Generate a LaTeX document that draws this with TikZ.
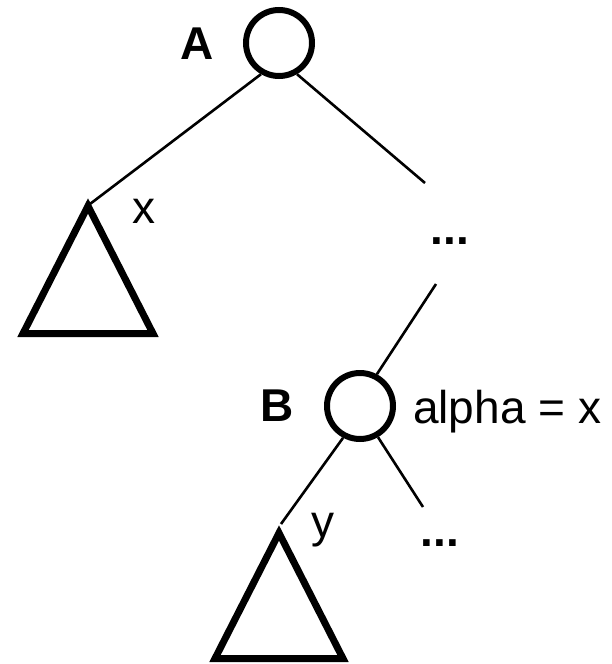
\documentclass[tikz,border=0pt]{standalone}
\usepackage{fontspec}
\setmainfont{Liberation Sans}
\usepackage{tikz}

\begin{document}
\begin{tikzpicture}[x=1pt, y=-1pt,
    vertex/.style={circle, draw, line width=6pt, minimum size=66pt, inner sep=0pt},
    tri/.style={line width=7pt},
    edge/.style={line width=2.6pt},
    lbl/.style={inner sep=0pt, font=\fontsize{46}{50}\selectfont}]
    \useasboundingbox (0,0) rectangle (612,664);

    \node[vertex] (A) at (279,43) {};
    \node[vertex] (B) at (360,406) {};
    \node[lbl, font=\fontsize{46}{50}\selectfont\bfseries] (la) at (197,44) {A};
    \node[lbl, font=\fontsize{46}{50}\selectfont\bfseries] (lb) at (277,406) {B};

    % subtrees
    \coordinate (tx) at (90,204);
    \coordinate (ty) at (281,524);
    \draw[tri] (88,206) -- (23,333.5) -- (153,333.5) -- cycle;
    \draw[tri] (279,533) -- (215,658.5) -- (343,658.5) -- cycle;

    % elided parts
    \node[lbl, font=\fontsize{46}{50}\selectfont\bfseries, anchor=base] (dots1) at (450,244) {...};
    \node[lbl, font=\fontsize{46}{50}\selectfont\bfseries, anchor=base] (dots2) at (440,546) {...};
    \coordinate (d1top) at (425,183);
    \coordinate (d1bot) at (436,284);
    \coordinate (d2top) at (423,507);

    \draw[edge] (A.240) -- (tx);
    \draw[edge] (A.300) -- (d1top);
    \draw[edge] (d1bot) -- (B.62);
    \draw[edge] (B.242) -- (ty);
    \draw[edge] (B.300) -- (d2top);

    \node[lbl] (lx) at (144,211) {x};
    \node[lbl, anchor=base] (ly) at (323,537) {y};
    \node[lbl, anchor=base west] (alpha) at (413,423) {alpha = x};
\end{tikzpicture}
\end{document}
